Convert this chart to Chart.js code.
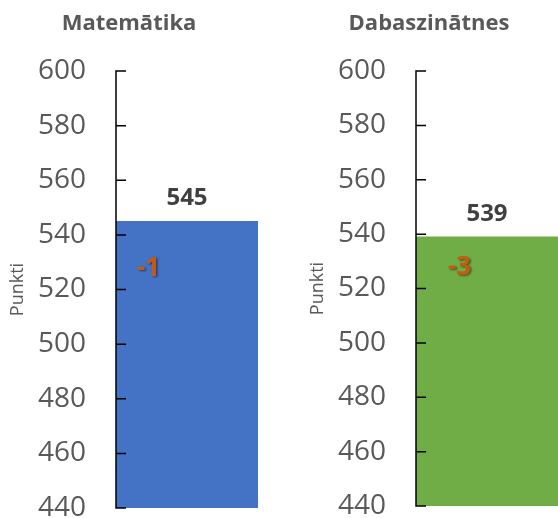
<!DOCTYPE html>
<html lang="lv">
<head>
    <meta charset="UTF-8">
    <title>Matemātika un dabaszinātnes</title>
    <script src="https://cdn.jsdelivr.net/npm/chart.js"></script>
    <style>
        html, body { margin: 0; padding: 0; background: #fff; overflow: hidden; }
        body { width: 558px; height: 518px; position: relative; font-family: 'Open Sans', sans-serif; }
        .panel { position: absolute; top: 0; width: 260px; height: 518px; }
    </style>
</head>
<body>
    <div class="panel" style="left:0"><canvas id="chart0"></canvas></div>
    <div class="panel" style="left:300px"><canvas id="chart1"></canvas></div>

    <script>
        // data
        const subjects = ['Matemātika', 'Dabaszinātnes'];
        const scores = [545, 539];
        const changes = ['-1', '-3'];
        const barColors = ['#4472C4', '#70AD47'];
        const yMin = 440, yMax = 600, yStep = 20;
        const axisTitle = 'Punkti';

        // per-panel layout
        const panels = [
            { bottomPad: 10, changeX: 21 },
            { bottomPad: 12, changeX: 32 }
        ];

        const decoPlugin = {
            id: 'deco',
            afterDatasetsDraw(chart, args, opts) {
                const ctx = chart.ctx;
                const y = chart.scales.y;
                const bar = chart.getDatasetMeta(0).data[0];
                ctx.save();
                // axis line with inward tick marks
                ctx.strokeStyle = '#000';
                ctx.lineWidth = 1.5;
                ctx.beginPath();
                ctx.moveTo(y.right, y.top);
                ctx.lineTo(y.right, y.bottom);
                y.ticks.forEach(t => {
                    const py = y.getPixelForValue(t.value);
                    ctx.moveTo(y.right - 0.75, py);
                    ctx.lineTo(y.right + 10, py);
                });
                ctx.stroke();

                // value above bar
                ctx.font = 'bold 24px "Open Sans"';
                ctx.fillStyle = '#404040';
                ctx.textAlign = 'center';
                ctx.textBaseline = 'alphabetic';
                ctx.fillText(String(chart.data.datasets[0].data[0]), bar.x, bar.y - 16);

                // change vs previous
                ctx.font = 'bold 26px "Open Sans"';
                ctx.fillStyle = '#C55A11';
                ctx.textAlign = 'left';
                ctx.shadowColor = 'rgba(0,0,0,0.45)';
                ctx.shadowOffsetX = 1.5;
                ctx.shadowOffsetY = 1.5;
                ctx.shadowBlur = 2;
                ctx.fillText(opts.change, y.right + opts.offsetX, y.getPixelForValue(525));
                ctx.restore();
            }
        };

        subjects.forEach((name, i) => {
            const ctx = document.getElementById('chart' + i).getContext('2d');
            new Chart(ctx, {
                type: 'bar',
                data: {
                    labels: [name],
                    datasets: [{
                        data: [scores[i]],
                        backgroundColor: barColors[i],
                        borderWidth: 0,
                        barPercentage: 1,
                        categoryPercentage: 1
                    }]
                },
                options: {
                    responsive: true,
                    maintainAspectRatio: false,
                    animation: false,
                    layout: { padding: { left: 0, right: 2, top: 0, bottom: panels[i].bottomPad } },
                    plugins: {
                        legend: { display: false },
                        tooltip: { enabled: false },
                        title: {
                            display: true,
                            text: name,
                            color: '#595959',
                            font: { family: 'Open Sans', size: 22, weight: 'bold' },
                            padding: { top: 11, bottom: 33.6 }
                        },
                        deco: { change: changes[i], offsetX: panels[i].changeX }
                    },
                    scales: {
                        x: { display: false },
                        y: {
                            min: yMin,
                            max: yMax,
                            border: { display: false },
                            grid: { display: false, drawTicks: false },
                            ticks: {
                                stepSize: yStep,
                                padding: 30,
                                color: '#595959',
                                font: { family: 'Open Sans', size: 28 }
                            },
                            title: {
                                display: true,
                                text: axisTitle,
                                color: '#595959',
                                font: { family: 'Open Sans', size: 18 },
                                padding: { top: 7, bottom: 0 }
                            },
                            afterFit: s => {
                                s.width = 116;
                                s.paddingTop = 0;
                                s.paddingBottom = 0;
                            }
                        }
                    }
                },
                plugins: [decoPlugin]
            });
        });
    </script>
</body>
</html>
